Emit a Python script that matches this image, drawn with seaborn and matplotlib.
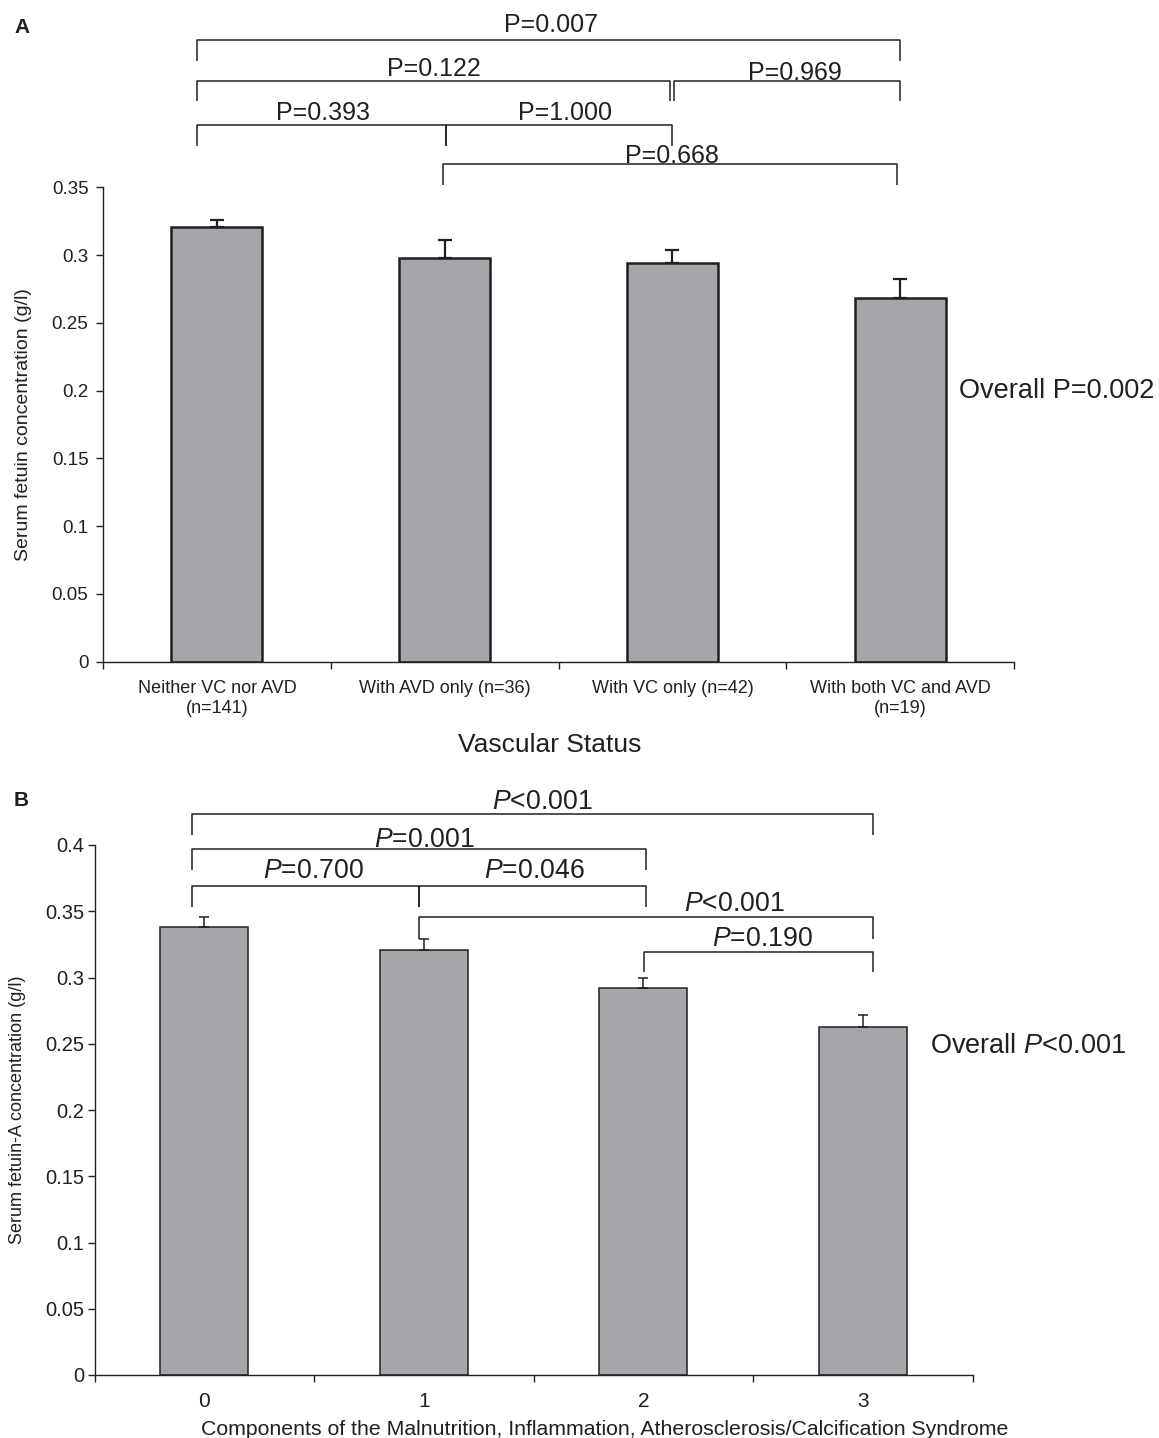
import matplotlib
matplotlib.use("Agg")
import matplotlib.pyplot as plt
import seaborn as sns
import pandas as pd
import numpy as np

# ---------------- data ----------------
a_categories = ["Neither VC nor AVD\n(n=141)", "With AVD only (n=36)",
                "With VC only (n=42)", "With both VC and AVD\n(n=19)"]
a_means = [0.321, 0.298, 0.294, 0.268]
a_errors = [0.005, 0.013, 0.010, 0.014]
a_yticks = [0, 0.05, 0.1, 0.15, 0.2, 0.25, 0.3, 0.35]
a_ytick_labels = ["0", "0.05", "0.1", "0.15", "0.2", "0.25", "0.3", "0.35"]
a_pvalues = ["P=0.007", "P=0.122", "P=0.969", "P=0.393", "P=1.000", "P=0.668"]
a_overall = "Overall P=0.002"

b_categories = ["0", "1", "2", "3"]
b_means = [0.338, 0.321, 0.292, 0.263]
b_errors = [0.008, 0.008, 0.008, 0.009]
b_yticks = [0, 0.05, 0.1, 0.15, 0.2, 0.25, 0.3, 0.35, 0.4]
b_ytick_labels = ["0", "0.05", "0.1", "0.15", "0.2", "0.25", "0.3", "0.35", "0.4"]
b_pvalues = ["P<0.001", "P=0.001", "P=0.700", "P=0.046", "P<0.001", "P=0.190"]
b_overall = "Overall P<0.001"

# bracket geometry (x_left, x_right, line_y, drop_y, text_x, text_baseline_y)
a_brackets = [(-0.087, 3.000, 0.4590, 0.4429, 1.467, 0.4649),
              (-0.087, 1.990, 0.4282, 0.4134, 0.953, 0.4319),
              (2.008, 3.000, 0.4282, 0.4134, 2.538, 0.4294),
              (-0.087, 1.006, 0.3962, 0.3807, 0.466, 0.4000),
              (1.006, 1.999, 0.3962, 0.3807, 1.528, 0.4000),
              (0.993, 2.986, 0.3674, 0.3519, 2.000, 0.3682)]
b_brackets = [(-0.058, 3.044, 0.4232, 0.4075, 1.538, 0.4269),
              (-0.058, 2.011, 0.3968, 0.3811, 1.000, 0.3987),
              (-0.058, 0.977, 0.3691, 0.3534, 0.497, 0.3751),
              (0.977, 2.011, 0.3691, 0.3534, 1.502, 0.3751),
              (0.977, 3.044, 0.3454, 0.3291, 2.413, 0.3504),
              (2.001, 3.044, 0.3190, 0.3039, 2.541, 0.3240)]

# ---------------- style ----------------
sns.set_theme(style="ticks")
plt.rcParams["font.family"] = ["Liberation Sans", "DejaVu Sans"]
plt.rcParams["mathtext.fontset"] = "custom"
plt.rcParams["mathtext.rm"] = "Liberation Sans"
plt.rcParams["mathtext.it"] = "Liberation Sans:italic"
INK = "#231f20"
GREY = "#a5a6a9"
plt.rcParams["text.color"] = INK
plt.rcParams["axes.edgecolor"] = INK
plt.rcParams["xtick.color"] = INK
plt.rcParams["ytick.color"] = INK
plt.rcParams["axes.labelcolor"] = INK

W, H = 1159, 1438
fig = plt.figure(figsize=(W / 100, H / 100), dpi=100)

axA = fig.add_axes([103 / W, 1 - 661.7 / H, (1014 - 103) / W, (661.7 - 187.3) / H])
axB = fig.add_axes([94.6 / W, 1 - 1375 / H, (972.6 - 94.6) / W, (1375 - 845) / H])


def draw_panel(ax, cats, means, errs, yticks, yticklabels, ymax, edge_lw, err_lw,
               capsize, ytick_fs, xtick_fs, xtick_pad, ytick_pad):
    df = pd.DataFrame({"cat": cats, "val": means})
    sns.barplot(data=df, x="cat", y="val", order=cats, color=GREY, saturation=1,
                edgecolor=INK, linewidth=edge_lw, width=0.4, errorbar=None, ax=ax,
                zorder=2)
    xs = np.arange(len(cats))
    ax.errorbar(xs, means, yerr=[np.zeros(len(errs)), errs], fmt="none",
                ecolor=INK, elinewidth=err_lw, capsize=capsize, capthick=err_lw,
                zorder=3)
    ax.set_xlim(-0.5, len(cats) - 0.5)
    ax.set_ylim(0, ymax)
    ax.set_yticks(yticks)
    ax.set_yticklabels(yticklabels)
    ax.set_xticks(xs)
    ax.set_xticklabels(cats)
    ax.set_xticks(np.arange(len(cats) + 1) - 0.5, minor=True)
    ax.tick_params(axis="x", which="major", length=0, pad=xtick_pad, labelsize=xtick_fs)
    ax.tick_params(axis="x", which="minor", length=5, width=1, direction="out")
    ax.tick_params(axis="y", which="major", length=5, width=1, direction="out",
                   pad=ytick_pad, labelsize=ytick_fs)
    ax.tick_params(axis="y", which="minor", length=0)
    sns.despine(ax=ax)
    ax.spines["left"].set_linewidth(1)
    ax.spines["bottom"].set_linewidth(1)
    ax.set_facecolor("white")


def draw_brackets(ax, brackets, labels, fs, lw, italic):
    for (x1, x2, ly, dy, tx, ty), lab in zip(brackets, labels):
        ax.plot([x1, x1, x2, x2], [dy, ly, ly, dy], color=INK, lw=lw,
                clip_on=False, solid_capstyle="butt", zorder=4)
        txt = lab
        if italic:
            txt = r"$\mathit{P}$" + lab[1:]
        ax.text(tx, ty, txt, ha="center", va="baseline", fontsize=fs,
                clip_on=False)


# ---------------- panel A ----------------
draw_panel(axA, a_categories, a_means, a_errors, a_yticks, a_ytick_labels, 0.35,
           edge_lw=1.8, err_lw=1.6, capsize=5, ytick_fs=13.5, xtick_fs=13,
           xtick_pad=13.5, ytick_pad=5.5)
axA.set_xlabel("Vascular Status", fontsize=19)
axA.xaxis.set_label_coords(0.49, -0.150)
axA.set_ylabel("Serum fetuin concentration (g/l)", fontsize=14)
axA.yaxis.set_label_coords(-0.078, 0.5)
draw_brackets(axA, a_brackets, a_pvalues, fs=18, lw=1.1, italic=False)
axA.text(3.258, 0.2, a_overall, ha="left", va="center", fontsize=19.5, clip_on=False)
fig.text(14 / W, 1 - 27.5 / H, "A", fontsize=15, weight="bold", va="center", ha="left")

# ---------------- panel B ----------------
draw_panel(axB, b_categories, b_means, b_errors, b_yticks, b_ytick_labels, 0.4,
           edge_lw=1.1, err_lw=1.1, capsize=3.5, ytick_fs=14.5, xtick_fs=15,
           xtick_pad=12.5, ytick_pad=2.5)
axB.set_xlabel("Components of the Malnutrition, Inflammation, "
               "Atherosclerosis/Calcification Syndrome", fontsize=15.3)
axB.xaxis.set_label_coords(0.581, -0.084)
axB.set_ylabel("Serum fetuin-A concentration (g/l)", fontsize=13)
axB.yaxis.set_label_coords(-0.078, 0.5)
draw_brackets(axB, b_brackets, b_pvalues, fs=19.2, lw=1.1, italic=True)
axB.text(3.306, 0.2485, r"Overall $\mathit{P}$<0.001", ha="left", va="center",
         fontsize=19.5, clip_on=False)
fig.text(14 / W, 1 - 801 / H, "B", fontsize=15, weight="bold", va="center", ha="left")

fig.savefig("out.png", dpi=100, facecolor="white")
